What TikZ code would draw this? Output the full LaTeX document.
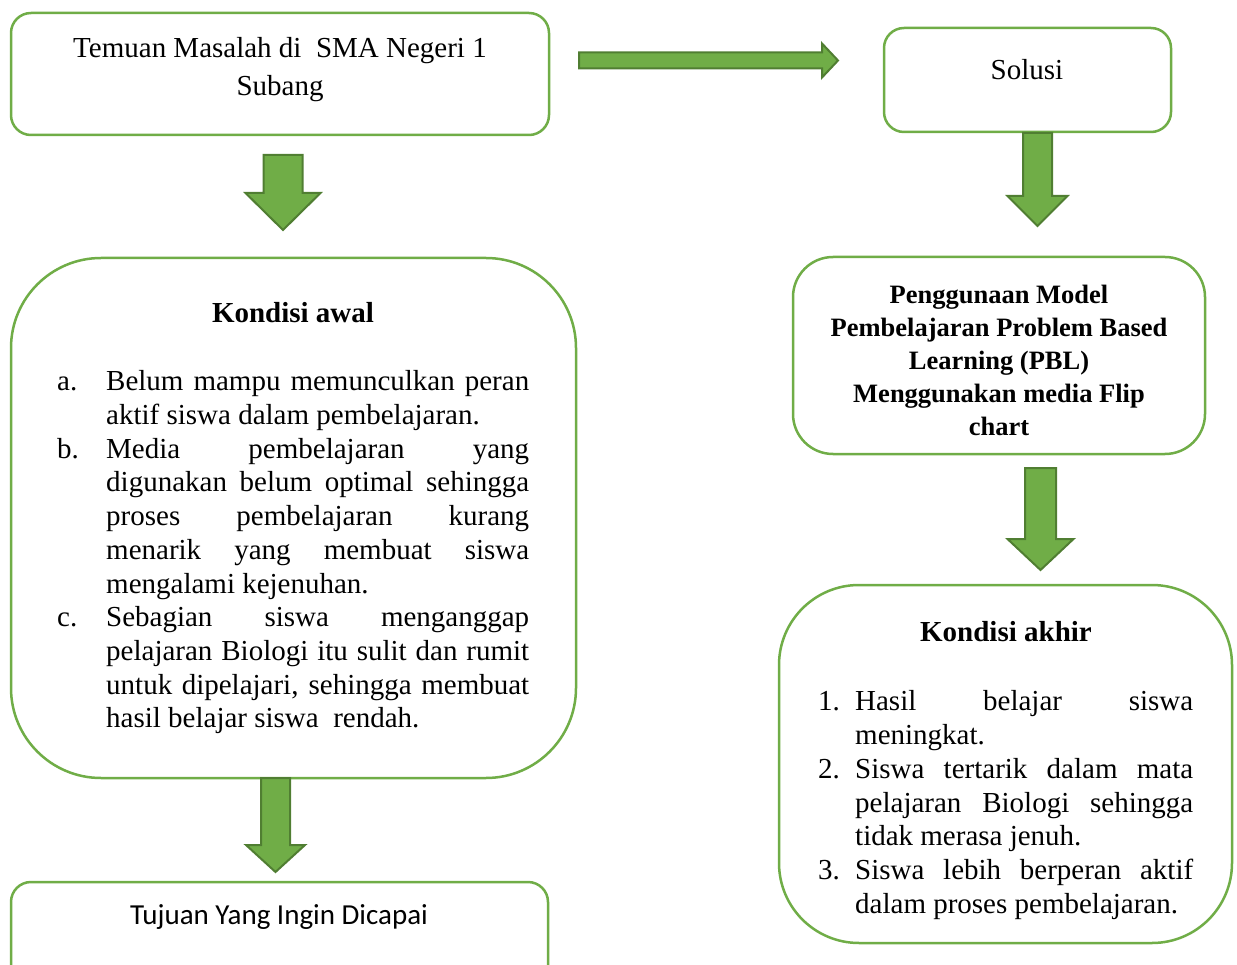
\documentclass[tikz,border=0pt]{standalone}
\usepackage{fontspec}
\setmainfont{Liberation Serif}
\newfontfamily\calibfont{Carlito}
\definecolor{boxgreen}{HTML}{70AD47}
\definecolor{arrowedge}{HTML}{507E32}
\newcommand\gdownarrow[6]{% cx, ytop, half shaft, y head base, half head, y tip
  \draw[barrow] (#1-#3,#2) -- (#1+#3,#2) -- (#1+#3,#4) -- (#1+#5,#4) -- (#1,#6)
    -- (#1-#5,#4) -- (#1-#3,#4) -- cycle;}
\newcommand\listitem[3]{\par\hangindent=#1pt\hangafter=1\noindent\hbox to #1pt{#2\hfil}#3\par}
\tikzset{
  gbox/.style={draw=boxgreen, line width=2.5pt, rounded corners=#1, inner sep=0pt, fill=white},
  plain/.style={font=\fontsize{29}{34}\selectfont, inner sep=0pt},
  boldtitle/.style={font=\fontsize{29}{34}\selectfont\bfseries, inner sep=0pt},
  listbox/.style={font=\fontsize{29}{33.7}\selectfont, inner sep=0pt, align=justify, anchor=north west},
  barrow/.style={fill=boxgreen, draw=arrowedge, line width=2pt, line join=miter}
}
\begin{document}
\begin{tikzpicture}[x=1pt,y=-1pt]
\useasboundingbox (0,0) rectangle (1237,965);
\clip (0,0) rectangle (1237,965);

% boxes
\node[gbox=20pt, minimum width=538pt, minimum height=122pt] (temuan) at (280,74) {};
\node[gbox=20pt, minimum width=287pt, minimum height=104pt] (solusi) at (1027.5,80) {};
\node[gbox=90pt, minimum width=565pt, minimum height=520pt] (awal) at (293.5,518) {};
\node[gbox=40pt, minimum width=412pt, minimum height=197pt] (pbl) at (999,355.5) {};
\node[gbox=80pt, minimum width=453pt, minimum height=358pt] (akhir) at (1005.5,764) {};
\node[gbox=20pt, minimum width=537pt, minimum height=160pt] (tujuan) at (279.5,962) {};

% texts
\node[inner sep=0pt, align=center, font=\fontsize{29}{38}\selectfont] (temuantext) at (280,70) {Temuan Masalah di\ \ SMA Negeri 1\\Subang};
\node[plain] (solusitext) at (1027,70) {Solusi};
\node[boldtitle] (awaltitle) at (293,313) {Kondisi awal};
\node[boldtitle] (akhirtitle) at (1006,632) {Kondisi akhir};
\node[inner sep=0pt, align=center, font=\fontsize{26.5}{33}\selectfont\bfseries] (pbltext) at (999,360)
  {Penggunaan Model\\Pembelajaran Problem Based\\Learning (PBL)\\Menggunakan media Flip\\chart};
\node[inner sep=0pt, font=\fontsize{29}{34}\calibfont] (tujuantext) at (279,917) {Tujuan Yang Ingin Dicapai};

\node[listbox, text width=472pt] (awallist) at (57,357) {\hyphenpenalty=10000 \hbadness=10000 %
\listitem{49}{a.}{Belum mampu memunculkan peran\linebreak aktif siswa dalam pembelajaran.}%
\listitem{49}{b.}{Media pembelajaran yang\linebreak digunakan belum optimal sehingga\linebreak proses pembelajaran kurang\linebreak menarik yang membuat siswa\linebreak mengalami kejenuhan.}%
\listitem{49}{c.}{Sebagian siswa menganggap\linebreak pelajaran Biologi itu sulit dan rumit\linebreak untuk dipelajari, sehingga membuat\linebreak hasil belajar siswa\ \ rendah.}};

\node[listbox, text width=375pt] (akhirlist) at (818,677) {\hyphenpenalty=10000 \hbadness=10000 %
\listitem{37}{1.}{Hasil belajar siswa\linebreak meningkat.}%
\listitem{37}{2.}{Siswa tertarik dalam mata\linebreak pelajaran Biologi sehingga\linebreak tidak merasa jenuh.}%
\listitem{37}{3.}{Siswa lebih berperan aktif\linebreak dalam proses pembelajaran.}};

% block arrows
\draw[barrow] (579,52.5) -- (822,52.5) -- (822,43.5) -- (838,60.5) -- (822,77.5) -- (822,68.5) -- (579,68.5) -- cycle;
\gdownarrow{283}{155}{19.5}{193}{37.5}{230}
\gdownarrow{275.5}{778}{14.5}{845}{29.5}{872}
\gdownarrow{1037.5}{133}{14.5}{196}{30}{226}
\gdownarrow{1040.5}{468}{15.5}{539}{33}{570}
\end{tikzpicture}
\end{document}
